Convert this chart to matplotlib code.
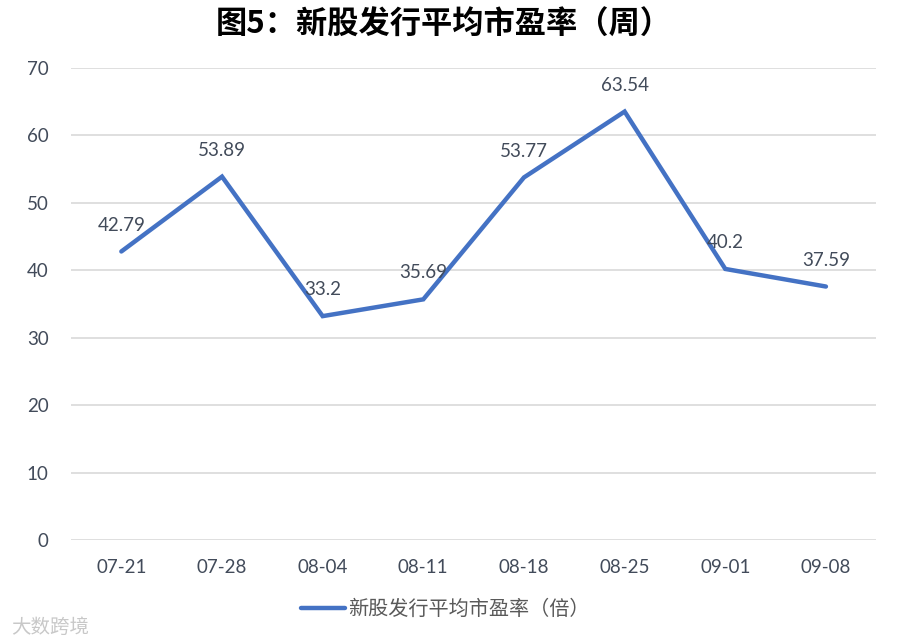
import matplotlib
matplotlib.use("Agg")
import matplotlib.pyplot as plt

plt.rcParams['font.family'] = ['Noto Sans CJK SC', 'DejaVu Sans']

weeks = ["07-21", "07-28", "08-04", "08-11", "08-18", "08-25", "09-01", "09-08"]
pe_ratio = [42.79, 53.89, 33.2, 35.69, 53.77, 63.54, 40.2, 37.59]
pe_labels = ["42.79", "53.89", "33.2", "35.69", "53.77", "63.54", "40.2", "37.59"]
yticks = [0, 10, 20, 30, 40, 50, 60, 70]

num_font = ["Lato", "Liberation Sans", "DejaVu Sans"]
txt_color = "#424B5A"

fig = plt.figure(figsize=(9.14, 6.44), dpi=100)
ax = fig.add_axes([0.0777, 0.1615, 0.881, 0.7329])

x = list(range(len(weeks)))
line, = ax.plot(x, pe_ratio, color="#4472C4", linewidth=3.2,
                solid_joinstyle="miter", solid_capstyle="round",
                label="新股发行平均市盈率（倍）")

for xi, yi, lab in zip(x, pe_ratio, pe_labels):
    ax.annotate(lab, (xi, yi), xytext=(0, 19), textcoords="offset points",
                ha="center", va="center", fontsize=13.5, color=txt_color,
                family=num_font)

ax.set_xlim(-0.5, 7.5)
ax.set_ylim(0, 70)
ax.set_yticks(yticks)
ax.set_xticks(x)
ax.set_xticklabels(weeks)
ax.grid(axis="y", color="#D9D9D9", linewidth=1.2)
ax.set_axisbelow(True)
for s in ax.spines.values():
    s.set_visible(False)
ax.tick_params(length=0, labelsize=13.5, labelcolor=txt_color)
ax.tick_params(axis="y", pad=16)
ax.tick_params(axis="x", pad=14)
for t in ax.get_xticklabels() + ax.get_yticklabels():
    t.set_family(num_font)

fig.text(0.485, 0.962, "图5：新股发行平均市盈率（周）", ha="center", va="center",
         fontsize=22.5, fontweight="bold", color="black")

fig.legend(handles=[line], loc="center", bbox_to_anchor=(0.487, 0.054),
           frameon=False, fontsize=14.5, handlelength=2.2, handletextpad=0.15,
           labelcolor="#595959")

fig.text(0.012, 0.025, "大数跨境", fontsize=14, color="#C8C8C8", va="center", ha="left")

fig.savefig("out.png", dpi=100)
